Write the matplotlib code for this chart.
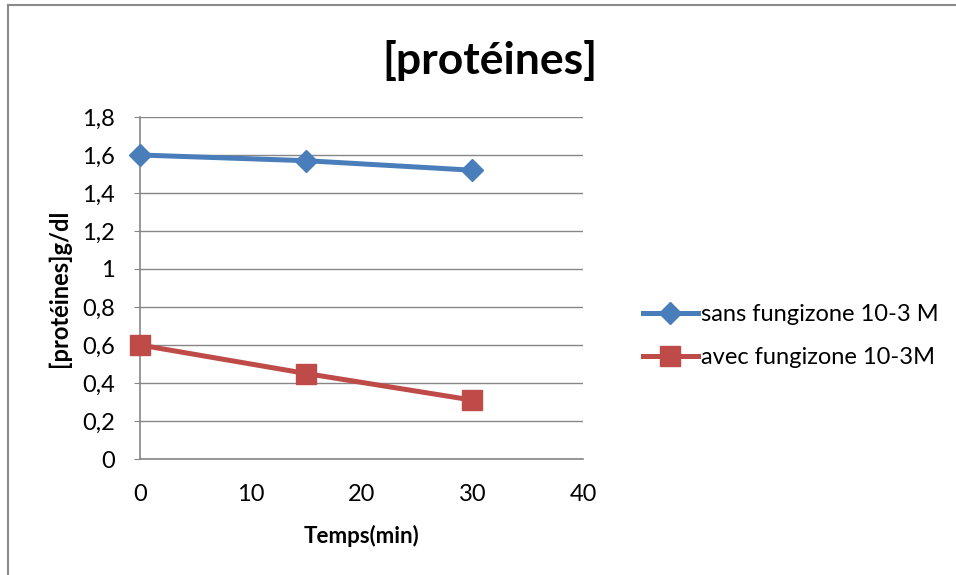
import matplotlib.pyplot as plt
from matplotlib.lines import Line2D
from matplotlib.ticker import FuncFormatter, MultipleLocator

plt.rcParams['font.family'] = ['Lato', 'DejaVu Sans']

# data
temps = [0, 15, 30]
sans_fungizone = [1.60, 1.57, 1.52]
avec_fungizone = [0.60, 0.45, 0.31]
labels = ["sans fungizone 10-3 M", "avec fungizone 10-3M"]


def comma_fmt(v, pos):
    if abs(v - round(v)) < 1e-9:
        return f"{int(round(v))}"
    return f"{v:.1f}".replace(".", ",")


fig = plt.figure(figsize=(9.56, 5.75), dpi=100)
ax = fig.add_axes([140 / 956, 1 - 459 / 575, (583 - 140) / 956, (459 - 117) / 575])

ax.plot(temps, sans_fungizone, color="#4A7EBB", lw=3.6, marker="D", ms=11,
        label=labels[0], clip_on=False, zorder=3)
ax.plot(temps, avec_fungizone, color="#BE4B48", lw=3.6, marker="s", ms=14,
        label=labels[1], clip_on=False, zorder=3)

ax.set_xlim(0, 40)
ax.set_ylim(0, 1.8)
ax.xaxis.set_major_locator(MultipleLocator(10))
ax.yaxis.set_major_locator(MultipleLocator(0.2))
ax.yaxis.set_major_formatter(FuncFormatter(comma_fmt))

ax.grid(axis="y", color="#868686", lw=1)
ax.set_axisbelow(True)
for s in ["top", "right"]:
    ax.spines[s].set_visible(False)
for s in ["left", "bottom"]:
    ax.spines[s].set_color("#868686")
    ax.spines[s].set_linewidth(1.2)
ax.tick_params(axis="y", length=4, color="#868686", labelsize=17, pad=14)
ax.tick_params(axis="x", length=0, labelsize=17, pad=18)

ax.set_xlabel("Temps(min)", fontsize=16, fontweight="bold", labelpad=14)
ax.set_ylabel("[protéines]g/dl", fontsize=17, fontweight="bold", labelpad=8)
fig.text(0.513, 0.895, "[protéines]", ha="center", va="center", fontsize=32, fontweight="bold")

fig.legend(loc="center left", bbox_to_anchor=(622 / 956, 1 - 336 / 575), frameon=False,
           fontsize=17, handlelength=2.3, handletextpad=0.15, labelspacing=0.95)

# outer chart border (only left and top edges show)
fig.add_artist(Line2D([8 / 956, 8 / 956], [0, 1 - 5 / 575], color="#8a8a8a", lw=1.5))
fig.add_artist(Line2D([8 / 956, 1], [1 - 5 / 575, 1 - 5 / 575], color="#8a8a8a", lw=1.5))

fig.savefig("out.png", dpi=100)
